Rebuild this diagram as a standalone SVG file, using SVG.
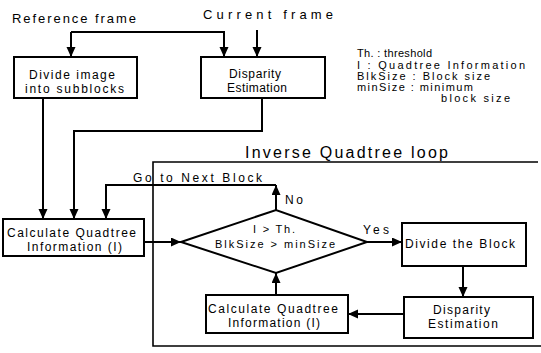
<svg xmlns="http://www.w3.org/2000/svg" width="541" height="353" viewBox="0 0 541 353">
<style>
  .box { fill: #fff; stroke: #000; stroke-width: 2; }
  .ln { fill: none; stroke: #000; stroke-width: 2; }
  .frame { fill: none; stroke: #000; stroke-width: 1.6; }
  text { font-family: "Liberation Sans", Arial, sans-serif; fill: #000; }
  .t { font-size: 12px; }
  .s { font-size: 11px; }
  .h { font-size: 13px; }
</style>
<defs>
  <marker id="ah" markerUnits="userSpaceOnUse" markerWidth="11" markerHeight="10" refX="10" refY="4.5" orient="auto">
    <path d="M0,0 L10,4.5 L0,9 z" fill="#000"/>
  </marker>
</defs>
<rect width="541" height="353" fill="#fff"/>

<g id="titles">
  <text class="h" x="12" y="23" textLength="124" lengthAdjust="spacing">Reference frame</text>
  <text class="h" x="203" y="19" textLength="130" lengthAdjust="spacing">Current frame</text>
  <text x="245" y="158" font-size="16" textLength="203" lengthAdjust="spacing">Inverse Quadtree loop</text>
</g>

<g id="legend">
  <text class="s" x="357" y="57" textLength="75" lengthAdjust="spacing">Th. : threshold</text>
  <text class="s" x="357" y="69" textLength="168" lengthAdjust="spacing">I : Quadtree Information</text>
  <text class="s" x="357" y="80" textLength="133" lengthAdjust="spacing">BlkSize : Block size</text>
  <text class="s" x="357" y="91" textLength="116" lengthAdjust="spacing">minSize : minimum</text>
  <text class="s" x="441" y="102" textLength="69" lengthAdjust="spacing">block size</text>
</g>

<g id="loop-frame">
  <path class="frame" d="M538,162 L153,162 L153,346 L541,346"/>
</g>

<g id="connectors">
  <path class="ln" d="M71,32 L224,32 L224,57" marker-end="url(#ah)"/>
  <path class="ln" d="M71,32 L71,57" marker-end="url(#ah)"/>
  <path class="ln" d="M257,30 L257,57" marker-end="url(#ah)"/>
  <path class="ln" d="M43,98 L43,219" marker-end="url(#ah)"/>
  <path class="ln" d="M262,98 L262,131 L74,131 L74,219" marker-end="url(#ah)"/>
  <path class="ln" d="M276,210 L276,185" marker-end="url(#ah)"/>
  <path class="ln" d="M276,185 L106,185 L106,219" marker-end="url(#ah)"/>
  <path class="ln" d="M144,242 L181,242" marker-end="url(#ah)"/>
  <path class="ln" d="M367,242 L402,242" marker-end="url(#ah)"/>
  <path class="ln" d="M463,266 L463,297" marker-end="url(#ah)"/>
  <path class="ln" d="M404,314 L348,314" marker-end="url(#ah)"/>
  <path class="ln" d="M276,295 L276,273" marker-end="url(#ah)"/>
  <text class="t" x="133" y="182" textLength="129" lengthAdjust="spacing">Go to Next Block</text>
  <text class="t" x="285" y="204" textLength="18" lengthAdjust="spacing">No</text>
  <text class="t" x="363" y="234" textLength="26" lengthAdjust="spacing">Yes</text>
</g>

<g id="divide-image">
  <rect class="box" x="14" y="57" width="123" height="41"/>
  <text class="t" x="29" y="79" textLength="86" lengthAdjust="spacing">Divide image</text>
  <text class="t" x="25" y="93" textLength="99" lengthAdjust="spacing">into subblocks</text>
</g>

<g id="disparity-1">
  <rect class="box" x="201" y="57" width="124" height="41"/>
  <text class="t" x="229" y="78" textLength="52" lengthAdjust="spacing">Disparity</text>
  <text class="t" x="227" y="92" textLength="60" lengthAdjust="spacing">Estimation</text>
</g>

<g id="calc-1">
  <rect class="box" x="3" y="219" width="141" height="37"/>
  <text class="t" x="7" y="237" textLength="129" lengthAdjust="spacing">Calculate Quadtree</text>
  <text class="t" x="27" y="251" textLength="95" lengthAdjust="spacing">Information (I)</text>
</g>

<g id="decision">
  <path class="box" d="M181,242 L276,210 L367,242 L276,273 Z"/>
  <text class="s" x="253" y="233" textLength="42" lengthAdjust="spacing">I &gt; Th.</text>
  <text class="s" x="215" y="248" textLength="120" lengthAdjust="spacing">BlkSize &gt; minSize</text>
</g>

<g id="divide-block">
  <rect class="box" x="402" y="223" width="124" height="43"/>
  <text class="t" x="405" y="248" textLength="110" lengthAdjust="spacing">Divide the Block</text>
</g>

<g id="disparity-2">
  <rect class="box" x="404" y="297" width="129" height="41"/>
  <text class="t" x="433" y="314" textLength="57" lengthAdjust="spacing">Disparity</text>
  <text class="t" x="428" y="328" textLength="70" lengthAdjust="spacing">Estimation</text>
</g>

<g id="calc-2">
  <rect class="box" x="206" y="295" width="142" height="38"/>
  <text class="t" x="208" y="313" textLength="130" lengthAdjust="spacing">Calculate Quadtree</text>
  <text class="t" x="228" y="327" textLength="92" lengthAdjust="spacing">Information (I)</text>
</g>
</svg>
